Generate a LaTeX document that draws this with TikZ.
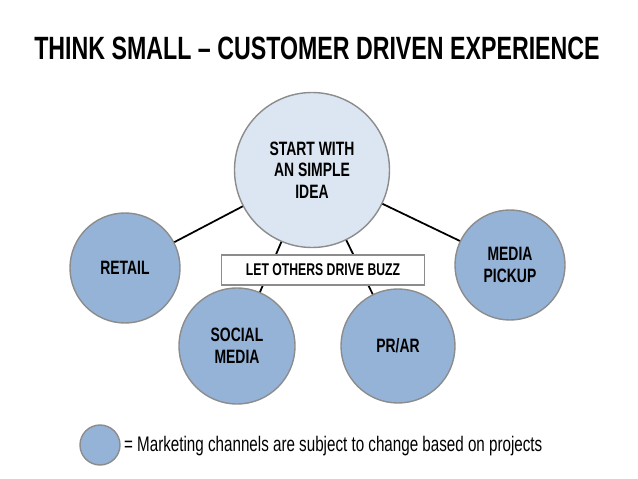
\documentclass[tikz,border=0pt]{standalone}
\usepackage{fontspec}
\setmainfont{Liberation Sans}[FakeStretch=0.72]
\definecolor{idea}{HTML}{DCE6F2}
\definecolor{chan}{HTML}{95B3D7}
\definecolor{rim}{HTML}{8C8C8C}
\begin{document}
\begin{tikzpicture}[x=0.03cm,y=-0.03cm,
    bubble/.style = {
        circle,
        draw = rim,
        line width = 1.2pt,
        fill = chan,
        align = center,
        font = \fontsize{16.5}{18.5}\selectfont\bfseries,
        inner sep = 0pt},
    link/.style = {
        draw,
        line width = 1.5pt}]
    \useasboundingbox (0,0) rectangle (638,479);
    % Title
    \node [font=\fontsize{27.5}{32}\selectfont\bfseries] (title) at (317,48) {THINK SMALL -- CUSTOMER DRIVEN EXPERIENCE};
    % Place nodes
    \node [bubble, fill=idea, minimum size=155*0.03cm] (idea) at (312,170) {START WITH\\AN SIMPLE\\IDEA};
    \node [bubble, minimum size=110*0.03cm] (retail) at (125,268) {RETAIL};
    \node [bubble, minimum size=116*0.03cm] (social) at (237,346) {SOCIAL\\MEDIA};
    \node [bubble, minimum size=114*0.03cm] (prar) at (398,346) {PR/AR};
    \node [bubble, minimum size=110*0.03cm] (pickup) at (510,265) {MEDIA\\PICKUP};
    % Draw edges
    \path [link] (idea) -- (retail);
    \path [link] (idea) -- (social);
    \path [link] (idea) -- (prar);
    \path [link] (idea) -- (pickup);
    \node [draw=rim, line width=1pt, fill=white, minimum width=203*0.03cm, minimum height=30*0.03cm,
        font=\fontsize{14.5}{16}\selectfont\bfseries] (buzz) at (323,270) {LET OTHERS DRIVE BUZZ};
    % Legend
    \node [bubble, minimum size=40*0.03cm] (key) at (100,445) {};
    \node [anchor=west, font=\fontsize{18}{20}\selectfont] (keytext) at (120,446) {= Marketing channels are subject to change based on projects};
\end{tikzpicture}
\end{document}
